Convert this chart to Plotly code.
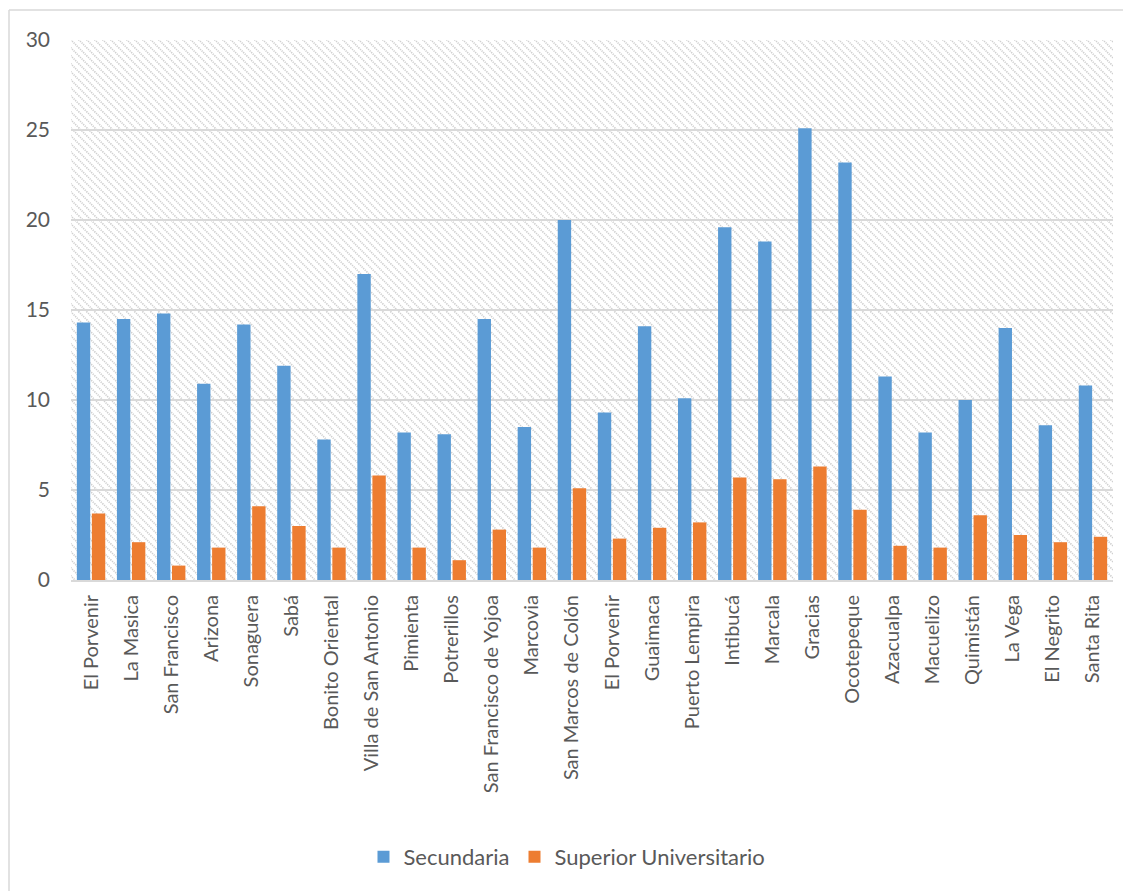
import base64
import plotly.graph_objects as go

categories = ["El Porvenir", "La Masica", "San Francisco", "Arizona", "Sonaguera", "Sabá",
              "Bonito Oriental", "Villa de San Antonio", "Pimienta", "Potrerillos",
              "San Francisco de Yojoa", "Marcovia", "San Marcos de Colón", "El Porvenir",
              "Guaimaca", "Puerto Lempira", "Intibucá", "Marcala", "Gracias", "Ocotepeque",
              "Azacualpa", "Macuelizo", "Quimistán", "La Vega", "El Negrito", "Santa Rita"]
secundaria = [14.3, 14.5, 14.8, 10.9, 14.2, 11.9, 7.8, 17.0, 8.2, 8.1, 14.5, 8.5, 20.0,
              9.3, 14.1, 10.1, 19.6, 18.8, 25.1, 23.2, 11.3, 8.2, 10.0, 14.0, 8.6, 10.8]
superior = [3.7, 2.1, 0.8, 1.8, 4.1, 3.0, 1.8, 5.8, 1.8, 1.1, 2.8, 1.8, 5.1,
            2.3, 2.9, 3.2, 5.7, 5.6, 6.3, 3.9, 1.9, 1.8, 3.6, 2.5, 2.1, 2.4]
y_ticks = [0, 5, 10, 15, 20, 25, 30]

FONT = "Lato"
TXT = "#595959"
GRID = "#D9D9D9"

x = list(range(len(categories)))

fig = go.Figure()
fig.add_trace(go.Bar(x=x, y=secundaria, name="Secundaria", marker=dict(color="#5B9BD5", line=dict(width=0))))
fig.add_trace(go.Bar(x=x, y=superior, name="Superior Universitario", marker=dict(color="#ED7D31", line=dict(width=0))))

# hatched plot-area background
W, H = 1042, 540
svg = f'''<svg xmlns="http://www.w3.org/2000/svg" width="{W}" height="{H}" viewBox="0 0 {W} {H}" preserveAspectRatio="none">
<defs><pattern id="p" patternUnits="userSpaceOnUse" width="8" height="8">
<path d="M-2,-2 L10,10 M-2,6 L2,10 M6,-2 L10,2" stroke="#CFCFCF" stroke-width="1.7" stroke-dasharray="1.2,1"/>
</pattern></defs>
<rect width="{W}" height="{H}" fill="url(#p)"/></svg>'''
src = "data:image/svg+xml;base64," + base64.b64encode(svg.encode()).decode()

border = dict(color=GRID, width=1.5)
fig.update_layout(
    width=1123, height=883,
    margin=dict(l=63, r=18, t=32, b=311),
    paper_bgcolor="white", plot_bgcolor="white",
    barmode="group", bargap=0.25, bargroupgap=0.11,
    font=dict(family=FONT, color=TXT, size=21),
    showlegend=True,
    legend=dict(orientation="h", x=0.476, xanchor="center", y=-0.513, yanchor="middle",
                font=dict(size=22, color=TXT), itemwidth=30, tracegroupgap=0),
    images=[dict(source=src, xref="paper", yref="paper", x=0, y=1, sizex=1, sizey=1,
                 sizing="stretch", layer="below", xanchor="left", yanchor="top")],
    shapes=[
        dict(type="line", xref="paper", yref="paper", x0=-0.0595, x1=-0.0595, y0=-0.62, y1=1.0556,
             line=border, layer="above"),
        dict(type="line", xref="paper", yref="paper", x0=-0.0595, x1=1.05, y0=1.0556, y1=1.0556,
             line=border, layer="above"),
    ],
)
fig.update_xaxes(tickmode="array", tickvals=x, ticktext=categories, tickangle=-90,
                 range=[-0.5, len(categories) - 0.5], showgrid=False, showline=True,
                 linecolor=GRID, linewidth=2, ticks="", tickfont=dict(size=20, color=TXT),
                 ticklabelstandoff=5)
fig.update_yaxes(range=[0, 30], tickmode="array", tickvals=y_ticks, showgrid=True,
                 gridcolor=GRID, gridwidth=2, zeroline=False, showline=False, ticks="",
                 tickfont=dict(size=21, color=TXT), ticklabelstandoff=20)

fig.write_html("out.html")
